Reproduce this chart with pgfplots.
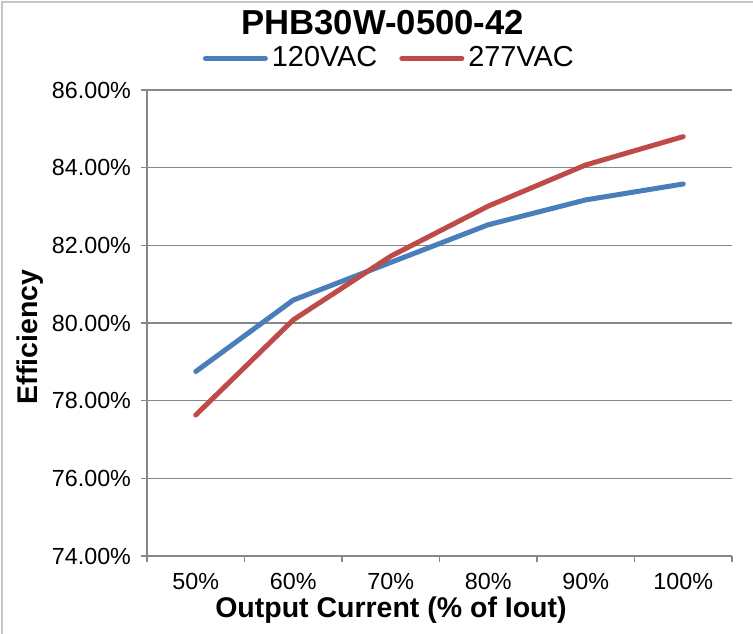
\documentclass[border=0pt]{standalone}
\usepackage{pgfplots}
\pgfplotsset{compat=1.18}
\usepackage{fontspec}
\setmainfont{Liberation Sans}
\definecolor{xlblue}{HTML}{4A7EBB}
\definecolor{xlred}{HTML}{BE4B48}
\definecolor{gridgray}{HTML}{868686}

\begin{document}
\begin{tikzpicture}
\useasboundingbox (0bp,0bp) rectangle (376.5bp,-317bp);
\draw[gray!45, line width=0.8bp] (1bp,-400bp) -- (1bp,-1bp) -- (400bp,-1bp);
\begin{axis}[
  at={(73.5bp,-45bp)}, anchor=north west,
  scale only axis, width=292.5bp, height=233bp,
  xmin=-0.5, xmax=5.5, ymin=74, ymax=86,
  axis x line=bottom, axis y line=left,
  axis line style={-, gridgray, line width=0.75bp},
  xtick={-0.5,0.5,...,5.5},
  x tick label as interval,
  xticklabels={50\%,60\%,70\%,80\%,90\%,100\%},
  ytick={74,76,...,86},
  yticklabels={74.00\%,76.00\%,78.00\%,80.00\%,82.00\%,84.00\%,86.00\%},
  tick align=outside, major tick length=3bp,
  tick style={gridgray, line width=0.75bp},
  ticklabel style={font=\fontsize{11.7}{13}\selectfont},
  xticklabel style={yshift=-2bp},
  yticklabel style={xshift=-1.5bp},
  ymajorgrids, major grid style={gridgray, line width=0.75bp},
  xlabel={Output Current (\% of Iout)},
  ylabel={Efficiency},
  label style={font=\bfseries\fontsize{14.3}{16}\selectfont},
  xlabel style={at={(axis description cs:0.417,-0.116)}, anchor=center},
  ylabel style={at={(axis description cs:-0.2,0.47)}, anchor=center},
  title={PHB30W-0500-42},
  title style={font=\bfseries\fontsize{17.4}{20}\selectfont, at={(axis description cs:0.403,1.12)}, anchor=center},
  legend style={draw=none, fill=none, legend columns=2,
    font=\fontsize{14.5}{16}\selectfont,
    at={(axis description cs:0.416,1.068)}, anchor=center,
    /tikz/every even column/.append style={column sep=9bp}},
  legend image code/.code={\draw[#1, line cap=round] (0bp,0bp) -- (30bp,0bp);},
  every axis plot/.append style={line width=2.5bp, line join=round, line cap=round, mark=none},
  clip=false,
]
\addplot[xlblue] coordinates {(0,78.75) (1,80.59) (2,81.56) (3,82.53) (4,83.17) (5,83.58)};
\addlegendentry{120VAC}
\addplot[xlred] coordinates {(0,77.63) (1,80.08) (2,81.72) (3,83.01) (4,84.07) (5,84.80)};
\addlegendentry{277VAC}
\end{axis}
\end{tikzpicture}
\end{document}
